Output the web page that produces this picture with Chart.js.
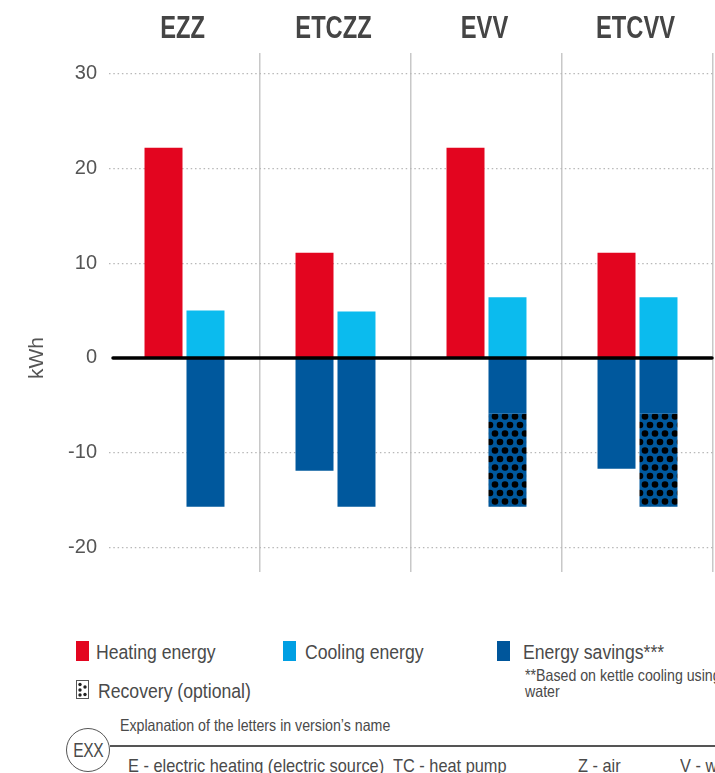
<!DOCTYPE html>
<html>
<head>
<meta charset="utf-8">
<script src="https://cdn.jsdelivr.net/npm/chart.js@4.4.1/dist/chart.umd.min.js"></script>
<style>
    body { margin: 0; background: #fff; }
    #wrap { position: relative; width: 715px; height: 773px; overflow: hidden;
            font-family: "Liberation Sans", Arial, sans-serif; color: #4a4a4a; }
    #chartBox { position: absolute; left: 0; top: 0; width: 715px; height: 600px; }
    .txt { position: absolute; white-space: nowrap; line-height: 1; transform: scaleX(0.86); transform-origin: 0 0; }
    .big { font-size: 20.5px; }
    .small { font-size: 16.5px; }
    .mid { font-size: 19px; }
    .swatch { position: absolute; width: 13px; height: 20px; }
    #circle { position: absolute; left: 66px; top: 728px; width: 42px; height: 42px; border: 1.5px solid #555;
              border-radius: 50%; font-size: 20px; line-height: 42px; text-align: center; }
    #circle span { display: inline-block; transform: scaleX(0.78); letter-spacing: -0.5px; }
    #rule { position: absolute; left: 110px; top: 745px; width: 605px; height: 0; border-top: 2px solid #555; }
</style>
</head>
<body>
<div id="wrap">
    <div id="chartBox"><canvas id="energyChart"></canvas></div>

    <div class="swatch" style="left:76px; top:641px; background:#e3051f;"></div>
    <div class="txt big" style="left:96px; top:642px;">Heating energy</div>
    <div class="swatch" style="left:283px; top:641px; background:#009fe3;"></div>
    <div class="txt big" style="left:305px; top:642px;">Cooling energy</div>
    <div class="swatch" style="left:497px; top:641px; background:#00569b;"></div>
    <div class="txt big" style="left:523px; top:642px;">Energy savings***</div>
    <div class="txt small" style="left:525px; top:668px; line-height:15.5px;">**Based on kettle cooling using<br>water</div>

    <svg style="position:absolute; left:76px; top:680px;" width="13" height="19">
        <rect x="0.5" y="0.5" width="12" height="18" fill="#fff" stroke="#555" stroke-width="1"/>
        <circle cx="4" cy="4.5" r="1.7" fill="#222"/>
        <circle cx="9" cy="7" r="1.7" fill="#222"/>
        <circle cx="4" cy="10" r="1.7" fill="#222"/>
        <circle cx="9" cy="14.5" r="1.7" fill="#222"/>
        <circle cx="4" cy="15" r="1.7" fill="#222"/>
    </svg>
    <div class="txt big" style="left:98px; top:681px;">Recovery (optional)</div>

    <div class="txt small" style="left:120px; top:717px;">Explanation of the letters in version’s name</div>
    <div id="circle"><span>EXX</span></div>
    <div id="rule"></div>
    <div class="txt mid" style="left:128px; top:756px;">E - electric heating (electric source)</div>
    <div class="txt mid" style="left:393px; top:756px;">TC - heat pump</div>
    <div class="txt mid" style="left:578px; top:756px;">Z - air</div>
    <div class="txt mid" style="left:680px; top:756px;">V - water</div>
</div>

<script>
const versions = ["EZZ", "ETCZZ", "EVV", "ETCVV"];
const heating = [22.2, 11.1, 22.2, 11.1];
const cooling = [5.0, 4.9, 6.4, 6.4];
const savingsHeat = [0, -11.9, 0, -11.7];
const savingsCool = [-15.7, -15.7, -5.9, -5.9];
const recovery = [0, 0, -9.8, -9.8];
const yTicks = [-20, -10, 0, 10, 20, 30];
const yUnit = "kWh";

const RED = "#e3051f";
const LIGHT_BLUE = "#0bbbee";
const DARK_BLUE = "#00589d";

// blue tile with black dots for the recovery part
function dotPattern() {
    const c = document.createElement("canvas");
    c.width = 10;
    c.height = 17;
    const g = c.getContext("2d");
    g.fillStyle = DARK_BLUE;
    g.fillRect(0, 0, 10, 17);
    g.fillStyle = "#000";
    [[0, 0], [10, 0], [0, 17], [10, 17], [5, 8.5]].forEach(p => {
        g.beginPath();
        g.arc(p[0], p[1], 3.3, 0, Math.PI * 2);
        g.fill();
    });
    return g.createPattern(c, "repeat");
}

// condensed bold version names above each column, unit label beside the zero line
const headers = {
    id: "headers",
    afterDraw(chart) {
        const x = chart.scales.x;
        const y = chart.scales.y;
        const ctx = chart.ctx;
        ctx.save();
        ctx.fillStyle = "#454545";
        ctx.font = "bold 32px 'Liberation Sans', Arial, sans-serif";
        ctx.textAlign = "center";
        ctx.textBaseline = "alphabetic";
        versions.forEach((name, i) => {
            ctx.save();
            ctx.translate(x.getPixelForValue(i) - 2, 38);
            ctx.scale(0.74, 1);
            ctx.fillText(name, 0, 0);
            ctx.restore();
        });

        ctx.fillStyle = "#555";
        ctx.font = "21px 'Liberation Sans', Arial, sans-serif";
        ctx.textBaseline = "middle";
        ctx.translate(37, y.getPixelForValue(0));
        ctx.rotate(-Math.PI / 2);
        ctx.fillText(yUnit, 0, 0);
        ctx.restore();
    }
};

const zeroLine = {
    id: "zeroLine",
    afterDraw(chart) {
        const y = chart.scales.y.getPixelForValue(0);
        const area = chart.chartArea;
        const ctx = chart.ctx;
        ctx.save();
        ctx.strokeStyle = "#000";
        ctx.lineWidth = 3.5;
        ctx.lineCap = "round";
        ctx.beginPath();
        ctx.moveTo(area.left + 4, y);
        ctx.lineTo(area.right - 1, y);
        ctx.stroke();
        ctx.restore();
    }
};

const ctx = document.getElementById("energyChart").getContext("2d");

new Chart(ctx, {
    type: "bar",
    data: {
        labels: versions,
        datasets: [
            { label: "Heating energy", data: heating, backgroundColor: RED, stack: "a" },
            { label: "Energy savings", data: savingsHeat, backgroundColor: DARK_BLUE, stack: "a" },
            { label: "Cooling energy", data: cooling, backgroundColor: LIGHT_BLUE, stack: "b" },
            { label: "Energy savings", data: savingsCool, backgroundColor: DARK_BLUE, stack: "b" },
            { label: "Recovery (optional)", data: recovery, backgroundColor: dotPattern(), stack: "b" }
        ]
    },
    options: {
        responsive: true,
        maintainAspectRatio: false,
        animation: false,
        barPercentage: 0.905,
        categoryPercentage: 0.556,
        layout: { padding: { top: 53, right: 2, bottom: 28, left: 0 } },
        plugins: {
            legend: { display: false },
            tooltip: { enabled: false }
        },
        scales: {
            x: {
                position: "top",
                stacked: true,
                border: { display: false },
                grid: {
                    offset: true,
                    drawTicks: false,
                    lineWidth: 1.5,
                    color: c => (c.index === 0 || c.index === versions.length) ? "rgba(0,0,0,0)" : "#c8c8c8"
                },
                ticks: { display: false }
            },
            y: {
                stacked: true,
                min: -22.6,
                max: 32.2,
                z: 1,
                afterBuildTicks: scale => { scale.ticks = yTicks.map(v => ({ value: v })); },
                afterFit: scale => { scale.width = 109; },
                border: { display: false, dash: [1.5, 2.8] },
                grid: {
                    drawTicks: false,
                    lineWidth: 1.3,
                    color: c => (c.tick && c.tick.value === 0) ? "rgba(0,0,0,0)" : "#b8b8b8"
                },
                ticks: {
                    padding: 12,
                    color: "#555",
                    font: { family: "'Liberation Sans', Arial, sans-serif", size: 20 }
                }
            }
        }
    },
    plugins: [headers, zeroLine]
});
</script>
</body>
</html>
